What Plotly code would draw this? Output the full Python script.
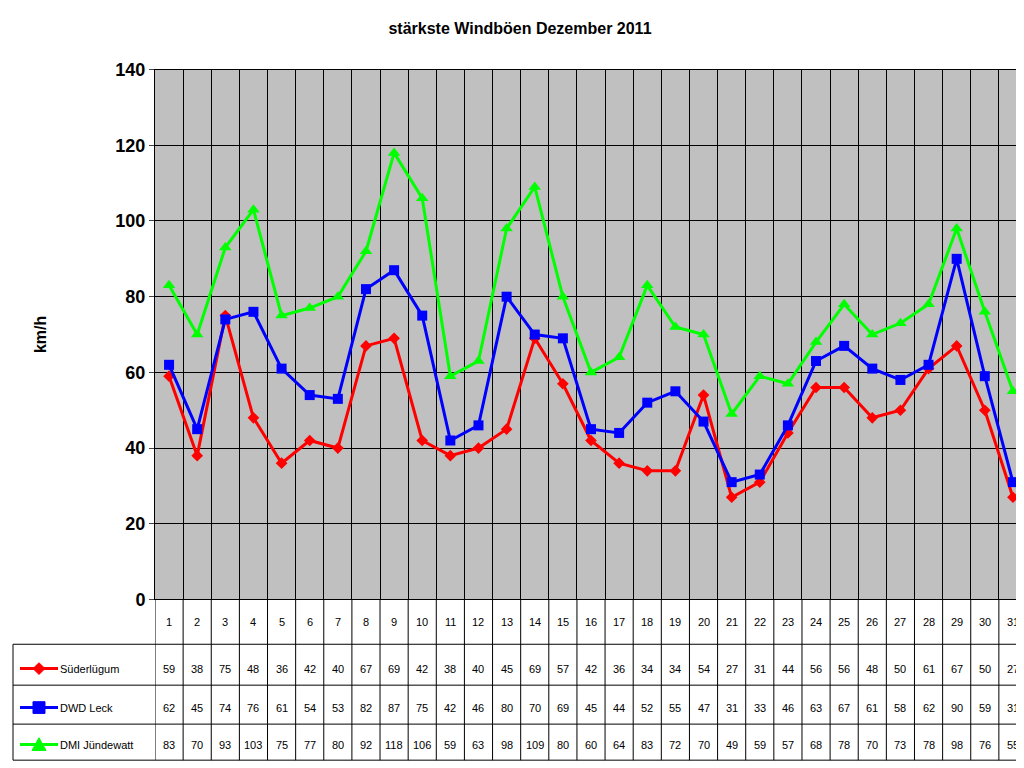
import plotly.graph_objects as go

days = list(range(1, 32))
suederluegum = [59, 38, 75, 48, 36, 42, 40, 67, 69, 42, 38, 40, 45, 69, 57, 42,
                36, 34, 34, 54, 27, 31, 44, 56, 56, 48, 50, 61, 67, 50, 27]
dwd_leck = [62, 45, 74, 76, 61, 54, 53, 82, 87, 75, 42, 46, 80, 70, 69, 45,
            44, 52, 55, 47, 31, 33, 46, 63, 67, 61, 58, 62, 90, 59, 31]
dmi_juendewatt = [83, 70, 93, 103, 75, 77, 80, 92, 118, 106, 59, 63, 98, 109, 80, 60,
                  64, 83, 72, 70, 49, 59, 57, 68, 78, 70, 73, 78, 98, 76, 55]

series = [
    ("Süderlügum", suederluegum, "#FF0000", "diamond", 9),
    ("DWD Leck", dwd_leck, "#0000FF", "square", 10),
    ("DMI Jündewatt", dmi_juendewatt, "#00FF00", "triangle-up", 11),
]

W, H = 1024, 768
def py(p):  # pixel y -> paper
    return 1 - p / H
def px(p):
    return p / W

# legend symbol outlines (pixel offsets around centre)
symbol_paths = {
    "diamond": [(0, -6), (6, 0), (0, 6), (-6, 0)],
    "square": [(-6, -6), (6, -6), (6, 6), (-6, 6)],
    "triangle-up": [(0, -7), (7, 6), (-7, 6)],
}

FONT = "Liberation Sans, Arial, sans-serif"
fig = go.Figure()
for name, vals, col, sym, size in series:
    fig.add_trace(go.Scatter(x=days, y=vals, mode="lines+markers", name=name,
                             line=dict(color=col, width=3),
                             marker=dict(color=col, symbol=sym, size=size),
                             showlegend=False, cliponaxis=False))

row_text_y = [677, 717, 755]
row_sym_y = [668, 708, 746]
shapes = []
annotations = []
for b in [d - 0.5 for d in days] + [31.5]:
    shapes.append(dict(type="line", xref="x", yref="paper", x0=b, x1=b,
                       y0=py(762), y1=py(597), line=dict(color="black", width=1)))
for yy in [643, 685, 725, 762]:
    shapes.append(dict(type="line", xref="paper", yref="paper", x0=px(5), x1=px(1019),
                       y0=py(yy), y1=py(yy), line=dict(color="black", width=1)))
shapes.append(dict(type="line", xref="paper", yref="paper", x0=px(5), x1=px(5),
                   y0=py(643), y1=py(762), line=dict(color="black", width=1)))
for d in days:
    annotations.append(dict(x=d, y=py(628), xref="x", yref="paper", text=str(d),
                            showarrow=False, font=dict(size=11, color="black")))
for (name, vals, col, sym, size), ty, sy in zip(series, row_text_y, row_sym_y):
    for d, v in zip(days, vals):
        annotations.append(dict(x=d, y=py(ty), xref="x", yref="paper", text=str(v),
                                showarrow=False, font=dict(size=11, color="black")))
    annotations.append(dict(x=px(50), y=py(ty), xref="paper", yref="paper", text=name,
                            xanchor="left", showarrow=False, font=dict(size=11, color="black")))
    shapes.append(dict(type="line", xref="paper", yref="paper", x0=px(12), x1=px(50),
                       y0=py(sy), y1=py(sy), line=dict(color=col, width=3)))
    pts = symbol_paths[sym]
    path = "M " + " L ".join(f"{px(31 + dx):.5f},{py(sy + dy):.5f}" for dx, dy in pts) + " Z"
    shapes.append(dict(type="path", xref="paper", yref="paper", path=path,
                       fillcolor=col, line=dict(color=col, width=1)))

annotations.append(dict(x=px(22), y=py(325), xref="paper", yref="paper", text="<b>km/h</b>",
                        textangle=-90, showarrow=False, font=dict(size=16, color="black")))

fig.update_layout(
    width=W, height=H, margin=dict(l=0, r=0, t=0, b=0),
    paper_bgcolor="white", plot_bgcolor="#C0C0C0",
    font=dict(family=FONT, color="black"),
    title=dict(text="<b>stärkste Windböen Dezember 2011</b>", x=0.5, xanchor="center",
               y=py(20), yanchor="middle", font=dict(size=16)),
    xaxis=dict(domain=[px(147), px(1019)], range=[0.5, 31.5],
               tickvals=[d - 0.5 for d in days] + [31.5], showticklabels=False,
               showgrid=True, gridcolor="black", gridwidth=1, zeroline=False,
               showline=True, linecolor="black", mirror=True, ticks=""),
    yaxis=dict(domain=[py(597), py(53)], range=[0, 140], dtick=20,
               showgrid=True, gridcolor="black", gridwidth=1, zeroline=False,
               showline=True, linecolor="black", mirror=True,
               tickfont=dict(size=18, family=FONT), ticks="outside", ticklen=5,
               tickprefix="<b>", ticksuffix="</b>"),
    shapes=shapes, annotations=annotations,
)
fig.write_html("out.html")
